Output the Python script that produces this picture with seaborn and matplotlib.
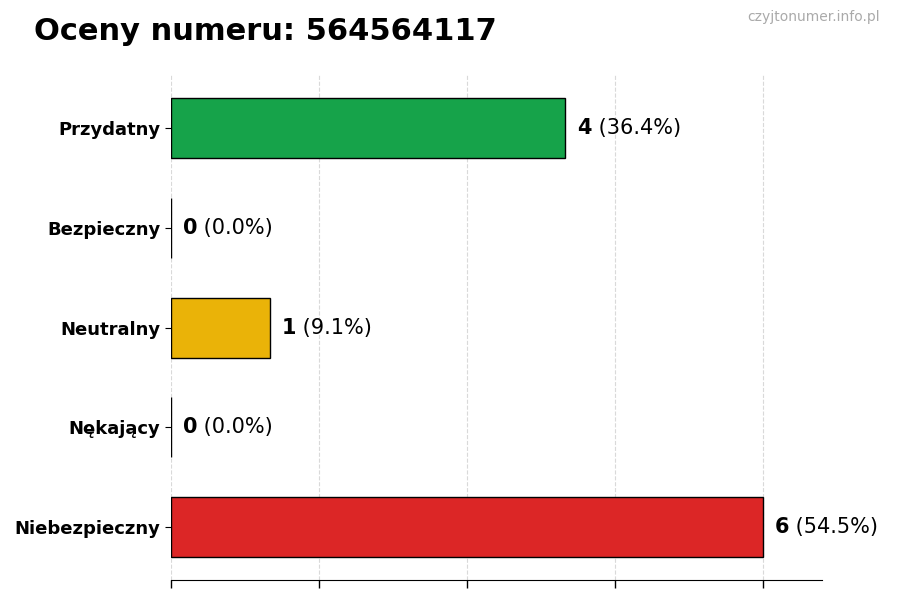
import pandas as pd
import numpy as np
import matplotlib
matplotlib.use("Agg")
import matplotlib.pyplot as plt
import seaborn as sns

# ----------------------------------------------
# Data
# ----------------------------------------------
categories = ["Przydatny", "Bezpieczny", "Neutralny", "Nękający", "Niebezpieczny"]
counts = [4, 0, 1, 0, 6]
colors = ["#16a34a", "#9ca3af", "#eab308", "#f97316", "#dc2626"]
number = "564564117"

total = sum(counts)
df = pd.DataFrame({"kategoria": categories, "liczba": counts})

sns.set_style("white")
plt.rcParams["font.family"] = ["DejaVu Sans"]
plt.rcParams["text.color"] = "black"
plt.rcParams["ytick.labelcolor"] = "black"

fig, ax = plt.subplots(figsize=(9, 6), dpi=100)
fig.subplots_adjust(left=0.19, right=0.913, top=0.875, bottom=0.033)

sns.barplot(data=df, y="kategoria", x="liczba", hue="kategoria",
            palette=colors, saturation=1, orient="h", width=0.6,
            edgecolor="black", linewidth=1, legend=False, ax=ax)

ax.set_xlim(0, 6.6)
ax.set_ylim(4.53, -0.53)
ax.set_xticks(np.arange(0, 6.1, 1.5))
ax.set_xticklabels([])
ax.tick_params(axis="x", length=6, width=1, color="black", direction="out", bottom=True)
ax.tick_params(axis="y", length=4, width=0.8, color="black", left=True,
               labelsize=13, labelcolor="black")
for lbl in ax.get_yticklabels():
    lbl.set_fontweight("bold")
ax.set_xlabel("")
ax.set_ylabel("")
ax.grid(axis="x", linestyle="--", color="#d9d9d9", linewidth=0.8)
ax.set_axisbelow(True)
sns.despine(ax=ax, left=True)
ax.spines["bottom"].set_color("black")

# value labels: bold count + normal percentage
for i, c in enumerate(counts):
    pct = c / total * 100 if total else 0
    t1 = ax.text(c + 0.12, i, str(c), va="center", ha="left",
                 fontsize=15, fontweight="bold", color="black")
    ax.annotate(f" ({pct:.1f}%)", xy=(1, 0), xycoords=t1,
                va="bottom", ha="left", fontsize=15, color="black")

fig.text(0.038, 0.948, f"Oceny numeru: {number}", fontsize=22,
         fontweight="bold", va="center", ha="left", color="black")
fig.text(0.978, 0.972, "czyjtonumer.info.pl", fontsize=10,
         color="#aaaaaa", va="center", ha="right")

plt.savefig("out.png", dpi=100)
